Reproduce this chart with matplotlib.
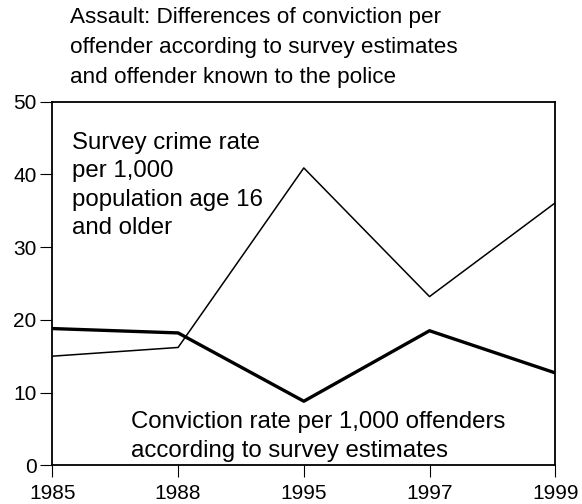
import matplotlib.pyplot as plt

plt.rcParams['font.family'] = ['Liberation Sans', 'DejaVu Sans']

years = ['1985', '1988', '1995', '1997', '1999']
survey_crime_rate = [15.0, 16.2, 40.9, 23.2, 36.1]
conviction_rate = [18.8, 18.2, 8.8, 18.5, 12.7]

fig = plt.figure(figsize=(5.82, 5.04), dpi=100)
ax = fig.add_axes([0.090, 0.077, 0.864, 0.721])

x = list(range(len(years)))
ax.plot(x, survey_crime_rate, color='black', linewidth=1.1)
ax.plot(x, conviction_rate, color='black', linewidth=2.4)

ax.set_xlim(0, len(years) - 1)
ax.set_ylim(0, 50)
ax.set_xticks(x)
ax.set_xticklabels(years)
ax.set_yticks([0, 10, 20, 30, 40, 50])
ax.tick_params(direction='out', length=8.5, width=0.8, labelsize=15)
ax.tick_params(axis='y', pad=3)
ax.tick_params(axis='x', pad=5)
for s in ax.spines.values():
    s.set_linewidth(1.3)

ax.text(0.04, 0.918, "Survey crime rate\nper 1,000\npopulation age 16\nand older",
        transform=ax.transAxes, ha='left', va='top', fontsize=17.3, linespacing=1.38)
ax.text(0.157, 0.010, "Conviction rate per 1,000 offenders\naccording to survey estimates",
        transform=ax.transAxes, ha='left', va='bottom', fontsize=17.3, linespacing=1.38)

fig.text(70 / 582, 1 - 7 / 504,
         "Assault: Differences of conviction per\noffender according to survey estimates\nand offender known to the police",
         ha='left', va='top', fontsize=16.2, linespacing=1.57)

fig.savefig('out.png', dpi=100)
